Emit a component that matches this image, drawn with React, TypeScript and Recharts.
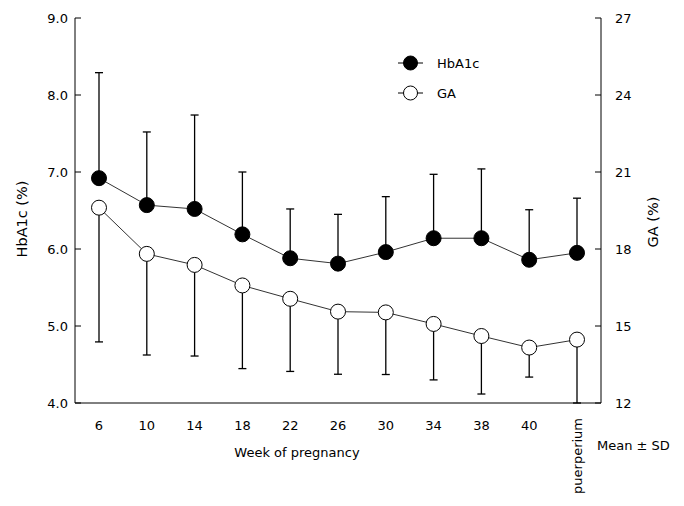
import React from "react"
import {
  ComposedChart,
  Line,
  XAxis,
  YAxis,
  ErrorBar,
  Legend
} from "recharts"

// weeks of pregnancy (last one is after delivery)
const weeks = ["6", "10", "14", "18", "22", "26", "30", "34", "38", "40", "puerperium"]

// HbA1c (%), left axis - mean and SD (only the upper whisker is drawn)
const hba1cMean = [6.92, 6.57, 6.52, 6.19, 5.88, 5.81, 5.96, 6.14, 6.14, 5.86, 5.95]
const hba1cSd = [1.37, 0.95, 1.22, 0.81, 0.64, 0.64, 0.72, 0.83, 0.9, 0.65, 0.71]

// GA (%), right axis - mean and SD (only the lower whisker is drawn)
const gaMean = [19.61, 17.81, 17.38, 16.58, 16.06, 15.56, 15.53, 15.08, 14.61, 14.16, 14.47]
const gaSd = [5.23, 3.94, 3.55, 3.24, 2.83, 2.44, 2.42, 2.18, 2.26, 1.15, 2.47]

const leftTicks = [4, 5, 6, 7, 8, 9]
const rightTicks = [12, 15, 18, 21, 24, 27]

const data = weeks.map((week, i) => ({
  week,
  hba1c: hba1cMean[i],
  hba1cErr: [0, hba1cSd[i]],
  ga: gaMean[i],
  gaErr: [gaSd[i], 0]
}))

const FONT = "DejaVu Sans, Verdana, sans-serif"
const INK = "#000"

function LeftTick({ x, y, payload }: any) {
  return (
    <g>
      <line x1={x + 7} x2={x + 13} y1={y} y2={y} stroke={INK} strokeWidth={1} />
      <text x={x} y={y} textAnchor="end" dominantBaseline="central" fontSize={13} fontFamily={FONT} fill={INK}>
        {Number(payload.value).toFixed(1)}
      </text>
    </g>
  )
}

function RightTick({ x, y, payload }: any) {
  return (
    <g>
      <line x1={x - 20} x2={x - 14} y1={y} y2={y} stroke={INK} strokeWidth={1} />
      <text x={x} y={y} textAnchor="start" dominantBaseline="central" fontSize={13} fontFamily={FONT} fill={INK}>
        {payload.value}
      </text>
    </g>
  )
}

function WeekTick({ x, y, payload }: any) {
  if (payload.value === "puerperium") {
    return (
      <text
        x={x}
        y={y + 15}
        transform={`rotate(-90, ${x}, ${y + 15})`}
        textAnchor="end"
        dominantBaseline="central"
        fontSize={13}
        fontFamily={FONT}
        fill={INK}
      >
        {payload.value}
      </text>
    )
  }
  return (
    <text x={x} y={y + 22} textAnchor="middle" dominantBaseline="central" fontSize={13} fontFamily={FONT} fill={INK}>
      {payload.value}
    </text>
  )
}

function WeekLabel() {
  return (
    <g fontFamily={FONT} fontSize={13} fill={INK}>
      <text x={297} y={452} textAnchor="middle" dominantBaseline="central">Week of pregnancy</text>
      <text x={597} y={445} textAnchor="start" dominantBaseline="central">Mean ± SD</text>
    </g>
  )
}

function SideLabel({ text, posX, posY }: { text: string; posX: number; posY: number }) {
  return (
    <text
      x={posX}
      y={posY}
      transform={`rotate(-90, ${posX}, ${posY})`}
      textAnchor="middle"
      dominantBaseline="central"
      fontSize={14.5}
      fontFamily={FONT}
      fill={INK}
    >
      {text}
    </text>
  )
}

function LegendBox() {
  const item = (label: string, fill: string) => (
    <div style={{ display: "flex", alignItems: "center", height: 30 }}>
      <svg width={30} height={20}>
        <line x1={2} x2={27} y1={10} y2={10} stroke={INK} strokeWidth={1} />
        <circle cx={14.5} cy={10} r={7} fill={fill} stroke={INK} strokeWidth={1} />
      </svg>
      <span style={{ marginLeft: 11, fontFamily: FONT, fontSize: 13, color: INK }}>{label}</span>
    </div>
  )
  return (
    <div>
      {item("HbA1c", "#000")}
      {item("GA", "#fff")}
    </div>
  )
}

export default function App() {
  return (
    <div style={{ position: "absolute", left: 0, top: 0, background: "#fff" }}>
      <ComposedChart width={684} height={506} data={data} margin={{ top: 18, right: 23, bottom: 73, left: 15 }}>
        <XAxis
          dataKey="week"
          padding={{ left: 24, right: 24 }}
          axisLine={{ stroke: INK, strokeWidth: 1 }}
          tickLine={false}
          tickSize={0}
          tickMargin={0}
          tick={<WeekTick />}
          interval={0}
          height={30}
          label={<WeekLabel />}
        />
        <XAxis
          xAxisId="top"
          dataKey="week"
          orientation="top"
          axisLine={{ stroke: INK, strokeWidth: 1 }}
          tick={false}
          tickLine={false}
          height={0}
        />
        <YAxis
          yAxisId="left"
          domain={[4, 9]}
          ticks={leftTicks}
          allowDataOverflow
          width={60}
          axisLine={{ stroke: INK, strokeWidth: 1 }}
          tickLine={false}
          tickSize={0}
          tickMargin={7}
          tick={<LeftTick />}
          label={<SideLabel text="HbA1c (%)" posX={22} posY={219} />}
        />
        <YAxis
          yAxisId="right"
          orientation="right"
          domain={[12, 27]}
          ticks={rightTicks}
          allowDataOverflow
          width={60}
          axisLine={{ stroke: INK, strokeWidth: 1 }}
          tickLine={false}
          tickSize={0}
          tickMargin={14}
          tick={<RightTick />}
          label={<SideLabel text="GA (%)" posX={653} posY={222} />}
        />
        <Legend
          layout="vertical"
          align="center"
          verticalAlign="middle"
          content={<LegendBox />}
          wrapperStyle={{ left: 396, top: 48, width: 140, height: 60 }}
        />
        <Line
          yAxisId="left"
          dataKey="hba1c"
          stroke="#333"
          strokeWidth={1}
          dot={{ r: 7.5, fill: "#000", stroke: INK, strokeWidth: 1 }}
          activeDot={false}
          isAnimationActive={false}
        >
          <ErrorBar dataKey="hba1cErr" direction="y" width={4} stroke={INK} strokeWidth={1.3} />
        </Line>
        <Line
          yAxisId="right"
          dataKey="ga"
          stroke="#333"
          strokeWidth={1}
          dot={{ r: 7.5, fill: "#fff", stroke: INK, strokeWidth: 1 }}
          activeDot={false}
          isAnimationActive={false}
        >
          <ErrorBar dataKey="gaErr" direction="y" width={4} stroke={INK} strokeWidth={1.3} />
        </Line>
      </ComposedChart>
    </div>
  )
}
